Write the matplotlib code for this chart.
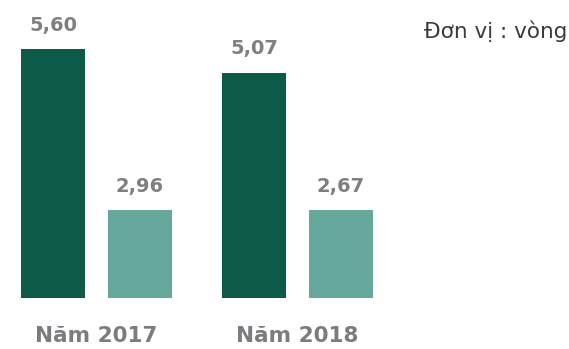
import matplotlib
matplotlib.use("Agg")
import matplotlib.pyplot as plt
import numpy as np

# ── dữ liệu ──
categories = ["Năm 2017", "Năm 2018"]
dark_labels = ["5,60", "5,07"]
light_labels = ["2,96", "2,67"]
# chiều cao cột như trên hình (cột nhạt vẽ bằng nhau trong bản gốc)
dark_heights = [5.60, 5.07]
light_heights = [1.98, 1.98]
unit_text = "Đơn vị : vòng"

DARK = "#0e5a48"
LIGHT = "#66a89b"
GREY = "#7f7f7f"

plt.rcParams['font.family'] = ['DejaVu Sans']

fig = plt.figure(figsize=(5.69, 3.49), dpi=100)
ax = fig.add_axes([0, 51 / 349, 1, 298 / 349])

x = np.arange(len(categories))
off = 0.2164
w = 0.318
b1 = ax.bar(x - off, dark_heights, w, color=DARK)
b2 = ax.bar(x + off, light_heights, w, color=LIGHT)

for bars, labels in ((b1, dark_labels), (b2, light_labels)):
    for bar, lab in zip(bars, labels):
        ax.annotate(lab, (bar.get_x() + bar.get_width() / 2, bar.get_height()),
                    xytext=(0, 17), textcoords="offset points",
                    ha="center", va="center", fontsize=14,
                    fontweight="bold", color=GREY)

ax.set_xlim(-96.5 / 201, (569 - 96.5) / 201)
ax.set_ylim(0, 298 / 44.46)
ax.set_xticks(x)
ax.set_xticklabels(categories, fontsize=15.5, fontweight="bold", color="#7b7b80")
ax.tick_params(axis="x", length=0, pad=20)
ax.set_yticks([])
for s in ax.spines.values():
    s.set_visible(False)

fig.text(567 / 569, 1 - 31 / 349, unit_text, ha="right", va="center",
         fontsize=15.5, color="#3a3a3a")

fig.savefig("out.png", dpi=100)
